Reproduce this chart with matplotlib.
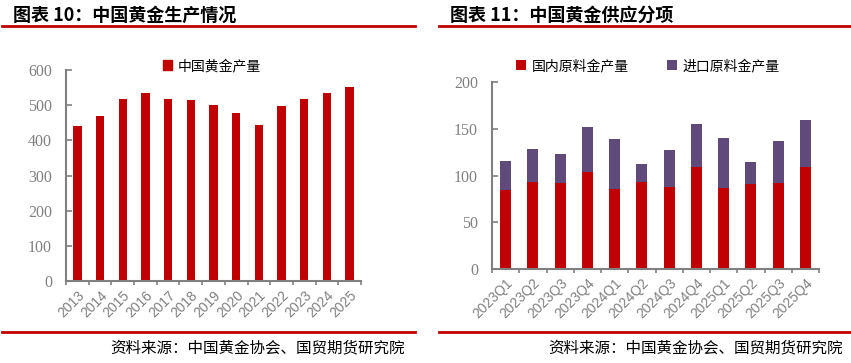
import matplotlib
matplotlib.use("Agg")
import matplotlib.pyplot as plt
from matplotlib.patches import Rectangle
from matplotlib.lines import Line2D
import numpy as np

plt.rcParams['font.family'] = ['Noto Sans CJK SC', 'DejaVu Sans']

# 图表10 数据
years = ['2013', '2014', '2015', '2016', '2017', '2018', '2019',
         '2020', '2021', '2022', '2023', '2024', '2025']
production = [441, 469, 517, 534, 517, 514, 500, 478, 444, 497, 517, 534, 551]

# 图表11 数据
quarters = ['2023Q1', '2023Q2', '2023Q3', '2023Q4', '2024Q1', '2024Q2',
            '2024Q3', '2024Q4', '2025Q1', '2025Q2', '2025Q3', '2025Q4']
domestic = [85, 93, 92, 104, 86, 93, 88, 109, 87, 91, 92, 109]
imported = [30, 35.5, 31, 48, 53, 19.5, 39.5, 46, 53, 23.5, 45, 50]

RED = '#C00000'
PURPLE = '#604A7B'
GRAY = '#808080'

W, H = 851, 363
fig = plt.figure(figsize=(W / 100, H / 100), dpi=100)


def px_axes(x0, y0, x1, y1):
    # y0 top, y1 bottom in pixel coords
    return fig.add_axes([x0 / W, 1 - y1 / H, (x1 - x0) / W, (y1 - y0) / H])


def style_axes(ax, n, labels):
    for s in ['top', 'right']:
        ax.spines[s].set_visible(False)
    for s in ['left', 'bottom']:
        ax.spines[s].set_color(GRAY)
        ax.spines[s].set_linewidth(1.5)
    ax.set_xlim(-0.5, n - 0.5)
    ax.set_xticks(np.arange(n))
    ax.set_xticks(np.arange(n + 1) - 0.5, minor=True)
    ax.set_xticklabels(labels, rotation=45, ha='right', rotation_mode='anchor',
                       family='Liberation Sans', fontsize=10, color=GRAY)
    ax.tick_params(axis='x', which='major', length=0, pad=5)
    ax.tick_params(axis='x', which='minor', length=3, width=1.2, color=GRAY, direction='out')
    ax.tick_params(axis='y', which='major', length=4, width=1.2, color=GRAY,
                   direction='in', labelcolor=GRAY, pad=10)
    for lab in ax.get_yticklabels():
        lab.set_family('Liberation Serif')
        lab.set_fontsize(11.5)


# 左图
ax1 = px_axes(66, 70, 361, 281)
x = np.arange(len(years))
ax1.bar(x, production, width=0.37, color=RED, zorder=2)
ax1.set_ylim(0, 600)
ax1.set_yticks(np.arange(0, 601, 100))
style_axes(ax1, len(years), years)
ax1.legend(handles=[Rectangle((0, 0), 1, 1, color=RED)], labels=['中国黄金产量'],
           loc='center', bbox_to_anchor=(212 / W, 1 - 66 / H), bbox_transform=fig.transFigure,
           frameon=False, fontsize=10, handlelength=0.7, handleheight=0.7, handletextpad=0.4)

# 右图
ax2 = px_axes(492, 82, 819, 269)
x2 = np.arange(len(quarters))
ax2.bar(x2, domestic, width=0.4, color=RED, zorder=2, label='国内原料金产量')
ax2.bar(x2, imported, width=0.4, bottom=domestic, color=PURPLE, zorder=2, label='进口原料金产量')
ax2.set_ylim(0, 200)
ax2.set_yticks(np.arange(0, 201, 50))
style_axes(ax2, len(quarters), quarters)
ax2.legend(loc='center', bbox_to_anchor=(648 / W, 1 - 66 / H), bbox_transform=fig.transFigure,
           ncol=2, frameon=False, fontsize=10, handlelength=0.7, handleheight=0.7,
           handletextpad=0.4, columnspacing=2.8)

# 标题、分隔线与来源
fig.text(13 / W, 1 - 15 / H, '图表 10：中国黄金生产情况', fontsize=13, fontweight='bold',
         va='center', ha='left')
fig.text(450 / W, 1 - 15 / H, '图表 11：中国黄金供应分项', fontsize=13, fontweight='bold',
         va='center', ha='left')
for (a, b) in [(2, 415), (439, 851)]:
    for yy in (26, 332):
        fig.add_artist(Line2D([a / W, b / W], [1 - yy / H, 1 - yy / H], color=RED, lw=2))
fig.text(405 / W, 1 - 348 / H, '资料来源：中国黄金协会、国贸期货研究院', fontsize=11.2,
         ha='right', va='center')
fig.text(843 / W, 1 - 348 / H, '资料来源：中国黄金协会、国贸期货研究院', fontsize=11.2,
         ha='right', va='center')

fig.savefig('out.png', dpi=100)
